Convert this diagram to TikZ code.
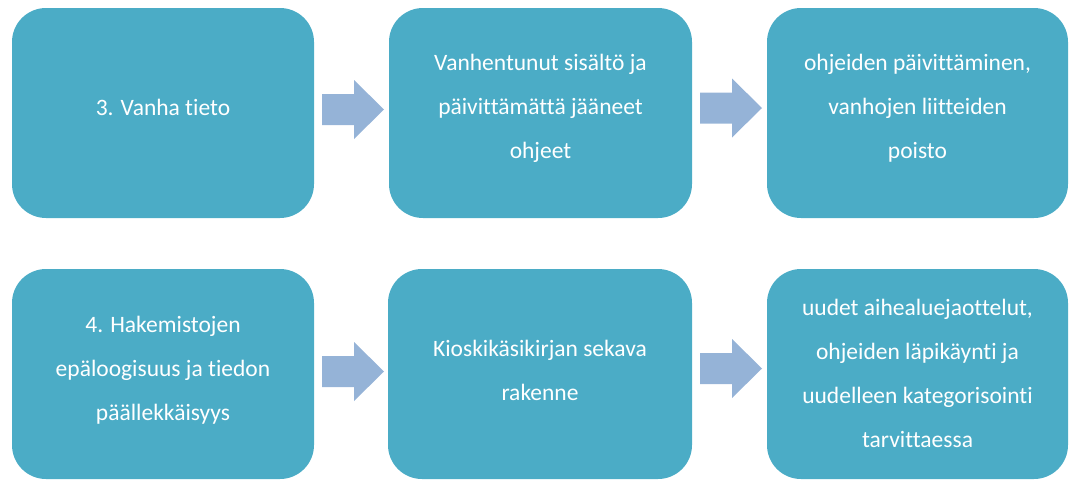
\documentclass[tikz,border=0pt]{standalone}
\usepackage{fontspec}
\setmainfont{Carlito}[RawFeature={-liga;-clig;-dlig}]
\definecolor{boxcol}{HTML}{4BACC6}
\definecolor{arrcol}{HTML}{95B3D7}
\begin{document}
\begin{tikzpicture}[x=1pt,y=-1pt,
 stage/.style={fill=boxcol, draw=none, rounded corners=34pt, minimum width=302pt, minimum height=210pt, inner sep=0pt},
 txt/.style={text=white, align=center, font=\fontsize{23.5}{44}\selectfont, inner sep=0pt},
 pics/blockarrow/.style={code={\fill[arrcol] (-31,-15.5) -- (1,-15.5) -- (1,-29.5) -- (31,0) -- (1,29.5) -- (1,15.5) -- (-31,15.5) -- cycle;}}]
\useasboundingbox (0,0) rectangle (1069,480);
\node[stage] (b1) at (163,113) {};
\node[stage, minimum width=303pt] (b2) at (540.5,113) {};
\node[stage, minimum width=301pt] (b3) at (917.5,113) {};
\node[stage] (b4) at (163,374) {};
\node[stage, minimum width=304pt] (b5) at (540,374) {};
\node[stage, minimum width=301pt] (b6) at (917.5,374) {};
\node[txt] (t1) at (163,107) {3. Vanha tieto};
\node[txt] (t2) at (540.5,108) {Vanhentunut sisältö ja\\päivittämättä jääneet\\ohjeet};
\node[txt] (t3) at (917.5,108) {ohjeiden päivittäminen,\\vanhojen liitteiden\\poisto};
\node[txt] (t4) at (163,370) {4. Hakemistojen\\epäloogisuus ja tiedon\\päällekkäisyys};
\node[txt] (t5) at (540,370) {Kioskikäsikirjan sekava\\rakenne};
\node[txt] (t6) at (917.5,373.5) {uudet aihealuejaottelut,\\ohjeiden läpikäynti ja\\uudelleen kategorisointi\\tarvittaessa};
\pic at (353,109.5) {blockarrow};
\pic at (731,108) {blockarrow};
\pic at (353,371.5) {blockarrow};
\pic at (731,368.5) {blockarrow};
\end{tikzpicture}
\end{document}
